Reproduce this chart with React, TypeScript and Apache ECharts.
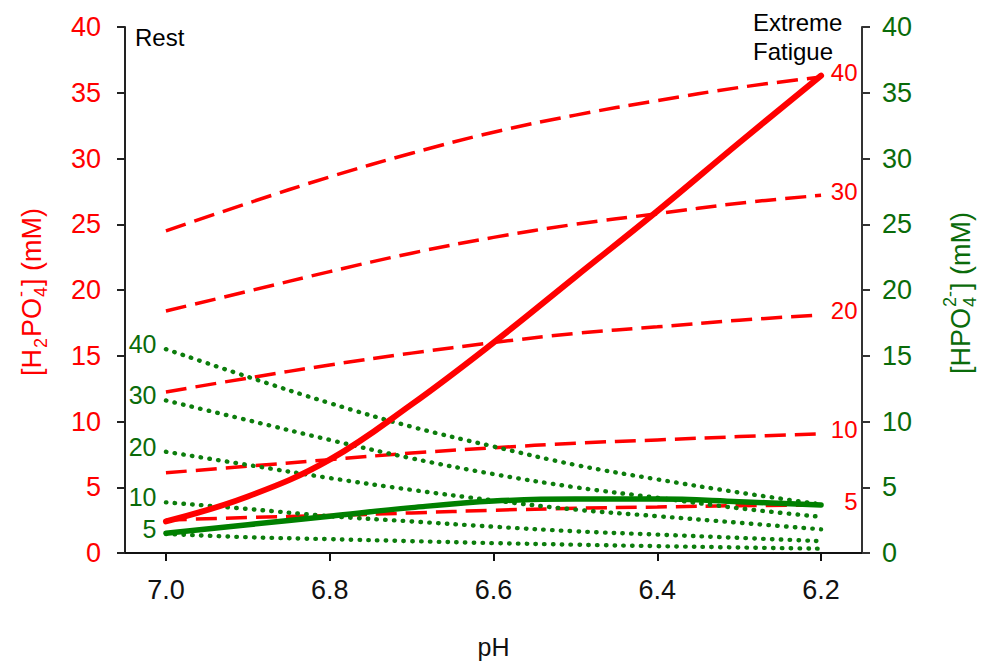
import React, { useEffect, useRef } from "react";
import * as echarts from "echarts";

// pH values (x axis, shown inverted)
const PH = [7.0, 6.9, 6.8, 6.7, 6.6, 6.5, 6.4, 6.3, 6.2];
const X_TICKS = [7.0, 6.8, 6.6, 6.4, 6.2];
const TOTALS = ["40", "30", "20", "10", "5"];

// [H2PO4-] (mM) for total phosphate 40, 30, 20, 10, 5 mM (left axis, dashed red)
const H2PO4_40 = [24.5, 26.6, 28.6, 30.4, 32.0, 33.3, 34.4, 35.4, 36.2];
const H2PO4_30 = [18.4, 19.9, 21.4, 22.8, 24.0, 25.0, 25.8, 26.6, 27.2];
const H2PO4_20 = [12.25, 13.3, 14.3, 15.2, 16.0, 16.7, 17.2, 17.7, 18.1];
const H2PO4_10 = [6.1, 6.6, 7.1, 7.6, 8.0, 8.35, 8.6, 8.85, 9.06];
const H2PO4_5 = [2.5, 2.7, 2.85, 3.05, 3.25, 3.4, 3.5, 3.6, 3.65];

// [HPO4 2-] (mM) for total phosphate 40, 30, 20, 10, 5 mM (right axis, dotted green)
const HPO4_40 = [15.5, 13.4, 11.4, 9.6, 8.1, 6.7, 5.6, 4.6, 3.7];
const HPO4_30 = [11.6, 10.1, 8.6, 7.2, 6.0, 5.0, 4.2, 3.4, 2.75];
const HPO4_20 = [7.7, 6.7, 5.7, 4.8, 4.0, 3.3, 2.8, 2.3, 1.8];
const HPO4_10 = [3.85, 3.35, 2.8, 2.4, 2.0, 1.65, 1.4, 1.15, 0.9];
const HPO4_5 = [1.45, 1.2, 1.05, 0.9, 0.75, 0.63, 0.52, 0.42, 0.33];

// Rest -> extreme fatigue trajectories (solid)
const FATIGUE_H2PO4 = [2.4, 4.3, 7.1, 11.3, 16.0, 21.0, 26.0, 31.2, 36.3];
const FATIGUE_HPO4 = [1.5, 2.15, 2.8, 3.45, 3.95, 4.1, 4.1, 3.9, 3.65];

const Y_MIN = 0;
const Y_MAX = 40;
const Y_STEP = 5;

const H2_SERIES = [H2PO4_40, H2PO4_30, H2PO4_20, H2PO4_10, H2PO4_5];
const HP_SERIES = [HPO4_40, HPO4_30, HPO4_20, HPO4_10, HPO4_5];

const FONT = '"Liberation Sans", Arial, Helvetica, sans-serif';
const RED = "#ff0000";
const GREEN_LINE = "#0c7d0c";
const GREEN_SOLID = "#008000";
const GREEN_TEXT = "#0a6b0a";

type Piece = { t?: string; sub?: string; sup?: string };

function buildRotatedName(pieces: Piece[], cx: number, cy: number, color: string) {
  const canvas = document.createElement("canvas");
  const ctx = canvas.getContext("2d")!;
  const MAIN = 27;
  const SMALL = 18;
  const meas = (t: string, s: number) => {
    ctx.font = `${s}px ${FONT}`;
    return ctx.measureText(t).width;
  };
  const items: any[] = [];
  let x = 0;
  const mk = (text: string, px: number, py: number, size: number) => ({
    type: "text",
    x: px,
    y: py,
    style: {
      text,
      fill: color,
      fontSize: size,
      fontFamily: FONT,
      align: "left",
      textAlign: "left",
      verticalAlign: "middle",
      textVerticalAlign: "middle",
    },
  });
  for (const p of pieces) {
    if (p.t) {
      items.push(mk(p.t, x, 0, MAIN));
      x += meas(p.t, MAIN);
    } else {
      let w = 0;
      if (p.sub) {
        items.push(mk(p.sub, x + 1, 9, SMALL));
        w = Math.max(w, meas(p.sub, SMALL));
      }
      if (p.sup) {
        items.push(mk(p.sup, x + 1, -11, SMALL));
        w = Math.max(w, meas(p.sup, SMALL));
      }
      x += w + 2;
    }
  }
  const W = x;
  items.forEach((it) => (it.x -= W / 2));
  return {
    type: "group",
    x: cx,
    y: cy,
    rotation: Math.PI / 2,
    silent: true,
    children: items,
  };
}

export default function App() {
  const ref = useRef<HTMLDivElement>(null);

  useEffect(() => {
    if (!ref.current) return;
    const chart = echarts.init(ref.current, undefined, { renderer: "svg" });

    const dashedSeries = H2_SERIES.map((vals, k) => ({
      type: "line",
      name: `H2PO4 ${TOTALS[k]}`,
      xAxisIndex: 0,
      yAxisIndex: 0,
      data: PH.map((p, i) => [p, vals[i]]),
      smooth: 0.4,
      symbol: "none",
      showSymbol: false,
      silent: true,
      z: 2,
      lineStyle: { color: RED, width: 3.5, type: [21, 9], cap: "butt" },
    }));

    const dottedSeries = HP_SERIES.map((vals, k) => ({
      type: "line",
      name: `HPO4 ${TOTALS[k]}`,
      xAxisIndex: 0,
      yAxisIndex: 1,
      data: PH.map((p, i) => [p, vals[i]]),
      smooth: 0.4,
      symbol: "none",
      showSymbol: false,
      silent: true,
      z: 2,
      lineStyle: { color: GREEN_LINE, width: 4.4, type: [0.5, 8.3], cap: "round" },
    }));

    const last = PH.length - 1;
    const redLabels = {
      type: "scatter",
      xAxisIndex: 0,
      yAxisIndex: 0,
      silent: true,
      symbolSize: 1,
      itemStyle: { color: "rgba(0,0,0,0)", opacity: 1 },
      z: 5,
      data: H2_SERIES.map((vals, k) => [PH[last], vals[last], TOTALS[k]]),
      label: {
        show: true,
        position: "right",
        align: "right",
        offset: [31, -4],
        formatter: (p: any) => p.value[2],
        color: RED,
        opacity: 1,
        fontSize: 24,
        fontFamily: FONT,
      },
    };

    const greenLabels = {
      type: "scatter",
      xAxisIndex: 0,
      yAxisIndex: 1,
      silent: true,
      symbolSize: 1,
      itemStyle: { color: "rgba(0,0,0,0)", opacity: 1 },
      z: 5,
      data: HP_SERIES.map((vals, k) => [PH[0], vals[0], TOTALS[k]]),
      label: {
        show: true,
        position: "left",
        align: "right",
        offset: [-4, -5],
        formatter: (p: any) => p.value[2],
        color: GREEN_TEXT,
        opacity: 1,
        fontSize: 25,
        fontFamily: FONT,
      },
    };

    const solidGreen = {
      type: "line",
      name: "HPO4 fatigue",
      xAxisIndex: 0,
      yAxisIndex: 1,
      data: PH.map((p, i) => [p, FATIGUE_HPO4[i]]),
      smooth: 0.4,
      symbol: "none",
      showSymbol: false,
      silent: true,
      z: 3,
      lineStyle: { color: GREEN_SOLID, width: 5.5, cap: "round" },
    };

    const solidRed = {
      type: "line",
      name: "H2PO4 fatigue",
      xAxisIndex: 0,
      yAxisIndex: 0,
      data: PH.map((p, i) => [p, FATIGUE_H2PO4[i]]),
      smooth: 0.4,
      symbol: "none",
      showSymbol: false,
      silent: true,
      z: 4,
      lineStyle: { color: RED, width: 6, cap: "round" },
    };

    const yAxisBase = (color: string, position: "left" | "right", margin: number, axisColor: string) => ({
      type: "value",
      position,
      min: Y_MIN,
      max: Y_MAX,
      interval: Y_STEP,
      splitLine: { show: false },
      axisLine: { show: true, onZero: false, lineStyle: { color: axisColor, width: 2 } },
      axisTick: { show: true, inside: false, length: 8, lineStyle: { color: axisColor, width: 2 } },
      axisLabel: { color, fontSize: 27, fontFamily: FONT, margin },
    });

    const option: any = {
      animation: false,
      backgroundColor: "#ffffff",
      grid: { left: 125, right: 122, top: 27, bottom: 107, containLabel: false },
      xAxis: [
        {
          type: "value",
          min: 6.15,
          max: 7.05,
          inverse: true,
          position: "bottom",
          splitLine: { show: false },
          axisLine: { show: true, onZero: false, lineStyle: { color: "#111", width: 2 } },
          axisTick: {
            show: true,
            length: 8,
            customValues: X_TICKS,
            lineStyle: { color: "#111", width: 2 },
          },
          axisLabel: {
            customValues: X_TICKS,
            formatter: (v: number) => v.toFixed(1),
            color: "#111",
            fontSize: 27,
            fontFamily: FONT,
            margin: 23,
          },
          name: "pH",
          nameLocation: "middle",
          nameGap: 81,
          nameTextStyle: { color: "#111", fontSize: 25, fontFamily: FONT },
        },
      ],
      yAxis: [yAxisBase(RED, "left", 24, "#222"), yAxisBase(GREEN_TEXT, "right", 20, "#333")],
      graphic: [
        {
          type: "text",
          x: 135,
          y: 37,
          silent: true,
          style: {
            text: "Rest",
            fill: "#000",
            fontSize: 24,
            fontFamily: FONT,
            align: "left",
            textAlign: "left",
            verticalAlign: "middle",
            textVerticalAlign: "middle",
          },
        },
        {
          type: "text",
          x: 753,
          y: 22,
          silent: true,
          style: {
            text: "Extreme",
            fill: "#000",
            fontSize: 24,
            fontFamily: FONT,
            align: "left",
            textAlign: "left",
            verticalAlign: "middle",
            textVerticalAlign: "middle",
          },
        },
        {
          type: "text",
          x: 753,
          y: 51,
          silent: true,
          style: {
            text: "Fatigue",
            fill: "#000",
            fontSize: 24,
            fontFamily: FONT,
            align: "left",
            textAlign: "left",
            verticalAlign: "middle",
            textVerticalAlign: "middle",
          },
        },
        buildRotatedName(
          [{ t: "[H" }, { sub: "2" }, { t: "PO" }, { sub: "4", sup: "-" }, { t: "] (mM)" }],
          32,
          292,
          RED
        ),
        buildRotatedName(
          [{ t: "[HPO" }, { sub: "4", sup: "2-" }, { t: "] (mM)" }],
          961,
          293,
          GREEN_TEXT
        ),
      ],
      series: [...dashedSeries, ...dottedSeries, solidGreen, solidRed, redLabels, greenLabels],
    };

    chart.setOption(option);
    return () => chart.dispose();
  }, []);

  return (
    <div
      ref={ref}
      style={{ position: "fixed", left: 0, top: 0, width: 984, height: 664, background: "#fff" }}
    />
  );
}
